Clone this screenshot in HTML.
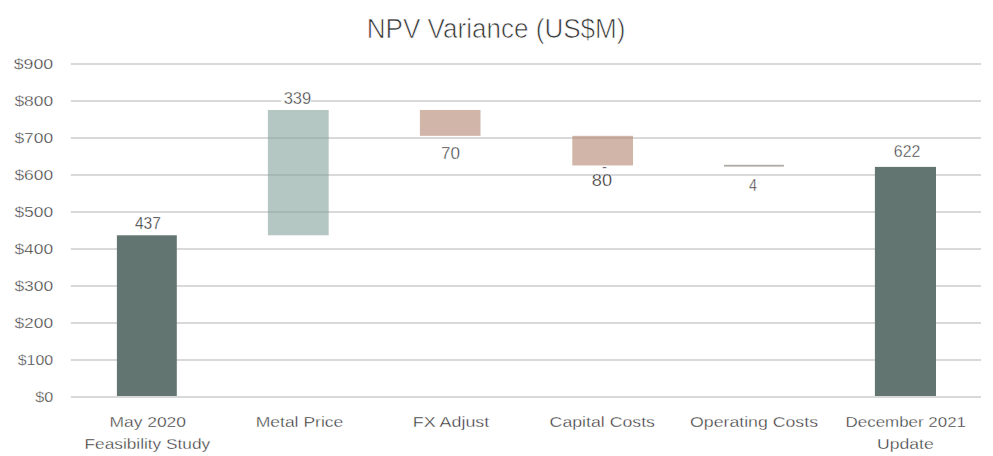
<!DOCTYPE html>
<html><head><meta charset="utf-8"><style>
html,body{margin:0;padding:0;background:#fff;width:993px;height:456px;overflow:hidden}
svg{display:block;font-family:"Liberation Sans", sans-serif}
</style></head><body>
<svg width="993" height="456" viewBox="0 0 993 456">
<rect x="0" y="0" width="993" height="456" fill="#fff"/>
<rect x="70.80" y="396.00" width="910.20" height="2.00" fill="#d9d9d9"/>
<rect x="70.80" y="359.00" width="910.20" height="2.00" fill="#d9d9d9"/>
<rect x="70.80" y="322.00" width="910.20" height="2.00" fill="#d9d9d9"/>
<rect x="70.80" y="285.00" width="910.20" height="2.00" fill="#d9d9d9"/>
<rect x="70.80" y="248.00" width="910.20" height="2.00" fill="#d9d9d9"/>
<rect x="70.80" y="211.00" width="910.20" height="2.00" fill="#d9d9d9"/>
<rect x="70.80" y="174.00" width="910.20" height="2.00" fill="#d9d9d9"/>
<rect x="70.80" y="137.00" width="910.20" height="2.00" fill="#d9d9d9"/>
<rect x="70.80" y="100.00" width="910.20" height="2.00" fill="#d9d9d9"/>
<rect x="70.80" y="63.00" width="910.20" height="2.00" fill="#d9d9d9"/>
<text x="35.20" y="401.85" font-size="14" text-anchor="start" fill="#303030" textLength="18.00" lengthAdjust="spacingAndGlyphs" stroke="#fff" stroke-width="0.35">$0</text>
<text x="17.70" y="364.88" font-size="14" text-anchor="start" fill="#303030" textLength="35.50" lengthAdjust="spacingAndGlyphs" stroke="#fff" stroke-width="0.35">$100</text>
<text x="14.40" y="327.91" font-size="14" text-anchor="start" fill="#303030" textLength="38.80" lengthAdjust="spacingAndGlyphs" stroke="#fff" stroke-width="0.35">$200</text>
<text x="14.40" y="290.94" font-size="14" text-anchor="start" fill="#303030" textLength="38.80" lengthAdjust="spacingAndGlyphs" stroke="#fff" stroke-width="0.35">$300</text>
<text x="14.40" y="253.97" font-size="14" text-anchor="start" fill="#303030" textLength="38.80" lengthAdjust="spacingAndGlyphs" stroke="#fff" stroke-width="0.35">$400</text>
<text x="14.40" y="217.00" font-size="14" text-anchor="start" fill="#303030" textLength="38.80" lengthAdjust="spacingAndGlyphs" stroke="#fff" stroke-width="0.35">$500</text>
<text x="14.40" y="180.03" font-size="14" text-anchor="start" fill="#303030" textLength="38.80" lengthAdjust="spacingAndGlyphs" stroke="#fff" stroke-width="0.35">$600</text>
<text x="14.40" y="143.06" font-size="14" text-anchor="start" fill="#303030" textLength="38.80" lengthAdjust="spacingAndGlyphs" stroke="#fff" stroke-width="0.35">$700</text>
<text x="14.40" y="106.09" font-size="14" text-anchor="start" fill="#303030" textLength="38.80" lengthAdjust="spacingAndGlyphs" stroke="#fff" stroke-width="0.35">$800</text>
<text x="13.70" y="69.12" font-size="14" text-anchor="start" fill="#303030" textLength="39.50" lengthAdjust="spacingAndGlyphs" stroke="#fff" stroke-width="0.35">$900</text>
<rect x="116.90" y="235.29" width="59.90" height="160.71" fill="#637571"/>
<rect x="267.90" y="109.96" width="60.80" height="125.33" fill="rgba(132,162,153,0.6)"/>
<rect x="419.90" y="109.96" width="60.60" height="25.88" fill="rgba(177,132,110,0.6)"/>
<rect x="572.30" y="135.84" width="60.70" height="29.58" fill="rgba(177,132,110,0.6)"/>
<rect x="724.00" y="164.80" width="59.90" height="1.80" fill="#aeaaa4"/>
<rect x="874.90" y="166.90" width="61.10" height="229.10" fill="#637571"/>
<rect x="281" y="99" width="30" height="4" fill="#fff" fill-opacity="0.75"/>
<text x="134.90" y="228.70" font-size="16" text-anchor="start" fill="#222222" textLength="25.90" lengthAdjust="spacingAndGlyphs" stroke="#fff" stroke-width="0.35">437</text>
<text x="283.70" y="103.60" font-size="16" text-anchor="start" fill="#3a3a3a" textLength="27.50" lengthAdjust="spacingAndGlyphs" stroke="#fff" stroke-width="0.35">339</text>
<text x="440.90" y="159.00" font-size="16" text-anchor="start" fill="#3a3a3a" textLength="19.00" lengthAdjust="spacingAndGlyphs" stroke="#fff" stroke-width="0.35">70</text>
<text x="604.50" y="171.70" font-size="15" text-anchor="middle" fill="#222222" stroke="#fff" stroke-width="0.35">-</text>
<text x="591.80" y="185.70" font-size="16" text-anchor="start" fill="#222222" textLength="20.20" lengthAdjust="spacingAndGlyphs" stroke="#fff" stroke-width="0.35">80</text>
<text x="749.00" y="191.00" font-size="16" text-anchor="start" fill="#3a3a3a" textLength="8.00" lengthAdjust="spacingAndGlyphs" stroke="#fff" stroke-width="0.35">4</text>
<text x="893.80" y="157.00" font-size="16" text-anchor="start" fill="#3a3a3a" textLength="26.50" lengthAdjust="spacingAndGlyphs" stroke="#fff" stroke-width="0.35">622</text>
<text x="109.50" y="426.60" font-size="15.5" text-anchor="start" fill="#303030" textLength="76.50" lengthAdjust="spacingAndGlyphs" stroke="#fff" stroke-width="0.35">May 2020</text>
<text x="84.50" y="449.20" font-size="15.5" text-anchor="start" fill="#303030" textLength="125.70" lengthAdjust="spacingAndGlyphs" stroke="#fff" stroke-width="0.35">Feasibility Study</text>
<text x="255.70" y="426.60" font-size="15.5" text-anchor="start" fill="#303030" textLength="87.60" lengthAdjust="spacingAndGlyphs" stroke="#fff" stroke-width="0.35">Metal Price</text>
<text x="412.80" y="426.60" font-size="15.5" text-anchor="start" fill="#303030" textLength="76.40" lengthAdjust="spacingAndGlyphs" stroke="#fff" stroke-width="0.35">FX Adjust</text>
<text x="549.60" y="426.60" font-size="15.5" text-anchor="start" fill="#303030" textLength="105.40" lengthAdjust="spacingAndGlyphs" stroke="#fff" stroke-width="0.35">Capital Costs</text>
<text x="690.00" y="426.60" font-size="15.5" text-anchor="start" fill="#303030" textLength="128.00" lengthAdjust="spacingAndGlyphs" stroke="#fff" stroke-width="0.35">Operating Costs</text>
<text x="845.60" y="426.60" font-size="15.5" text-anchor="start" fill="#303030" textLength="120.40" lengthAdjust="spacingAndGlyphs" stroke="#fff" stroke-width="0.35">December 2021</text>
<text x="877.00" y="449.20" font-size="15.5" text-anchor="start" fill="#303030" textLength="56.70" lengthAdjust="spacingAndGlyphs" stroke="#fff" stroke-width="0.35">Update</text>
<text x="366.80" y="37.90" font-size="27" text-anchor="start" fill="#333333" textLength="258.70" lengthAdjust="spacingAndGlyphs" stroke="#fff" stroke-width="0.7">NPV Variance (US$M)</text>
</svg>
</body></html>
